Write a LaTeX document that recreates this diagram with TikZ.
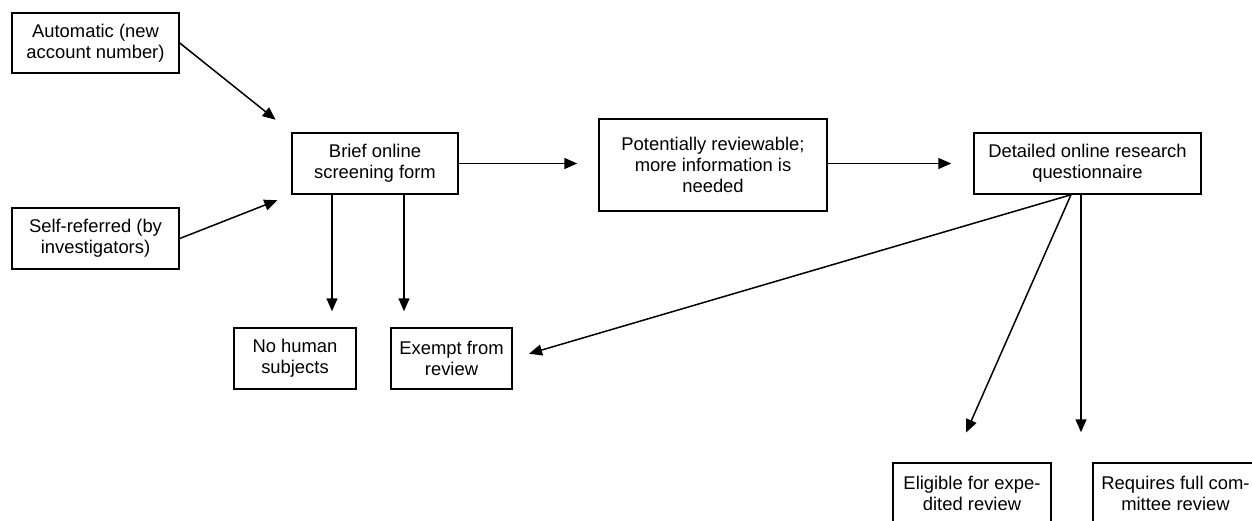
\documentclass[tikz,border=0pt]{standalone}
\usepackage{fontspec}
\setmainfont{Liberation Sans}
\usetikzlibrary{arrows.meta,calc}
\begin{document}
\begin{tikzpicture}[x=1pt,y=-1pt,
  box/.style={draw, line width=1.5pt, inner sep=0pt, align=center,
    font=\fontsize{18.4}{21}\selectfont},
  conn/.style={line width=1.5pt, -{Triangle[length=13pt,width=11pt]}}]
\useasboundingbox (0,0) rectangle (1252,520);
\clip (0,0) rectangle (1252,520);
\node[box, minimum width=167pt, minimum height=60pt] (auto) at (95.5,43) {Automatic (new\\account number)};
\node[box, minimum width=167pt, minimum height=61pt] (self) at (95.5,238.5) {Self-referred (by\\investigators)};
\node[box, minimum width=166pt, minimum height=61pt] (brief) at (375,163.5) {Brief online\\screening form};
\node[box, minimum width=228pt, minimum height=92pt] (pot) at (713,165) {Potentially reviewable;\\more information is\\needed};
\node[box, minimum width=227pt, minimum height=61pt] (det) at (1087.5,163.5) {Detailed online research\\questionnaire};
\node[box, minimum width=122pt, minimum height=61pt] (nh) at (295,358.5) {No human\\subjects};
\node[box, minimum width=121pt, minimum height=61pt] (ex) at (451.5,358.5) {Exempt from\\review};
\node[box, minimum width=158pt, minimum height=61pt] (elig) at (972,493.5) {Eligible for expe-\\dited review};
\node[box, minimum width=165pt, minimum height=61pt] (req) at (1175.5,493.5) {Requires full com-\\mittee review};

\draw[conn, shorten >=20pt] (auto.east) -- (brief.north west);
\draw[conn, shorten >=15pt] (self.east) -- (brief.south west);
\draw[conn, shorten >=21pt] (brief.east) -- (pot.west |- brief.east);
\draw[conn, shorten >=22pt] (pot.east |- det.west) -- (det.west);
\draw[conn, shorten >=16pt] ([xshift=-43pt]brief.south) -- ([xshift=-43pt]brief.south |- nh.north);
\draw[conn, shorten >=16pt] ([xshift=29pt]brief.south) -- ([xshift=29pt]brief.south |- ex.north);
\draw[conn, shorten >=17pt] ([xshift=-16.5pt]det.south) -- (ex.east);
\draw[conn, shorten >=32.5pt] ([xshift=-16.5pt]det.south) -- ([xshift=-19pt]elig.north);
\draw[conn, shorten >=30pt] ([xshift=-6.5pt]det.south) -- ([xshift=-6.5pt]det.south |- elig.north);
\end{tikzpicture}
\end{document}
